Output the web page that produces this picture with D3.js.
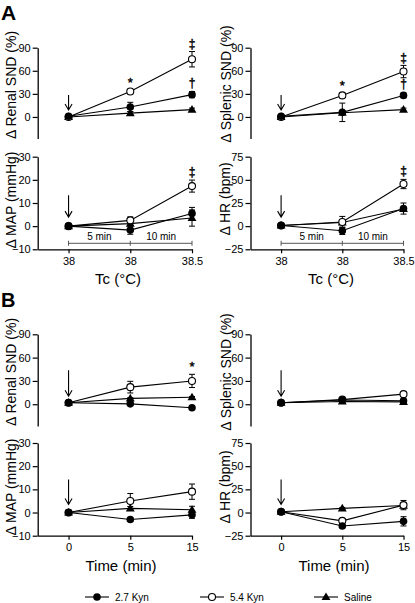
<!DOCTYPE html>
<html><head><meta charset="utf-8">
<script src="https://cdn.jsdelivr.net/npm/d3@7"></script>
<style>
html,body{margin:0;padding:0;background:#fff;}
svg text{font-family:"Liberation Sans",Arial,Helvetica,sans-serif;fill:#000;}
</style></head>
<body>
<script>
// ---------------- DATA ----------------
const seriesNames = ["2.7 Kyn", "5.4 Kyn", "Saline"];
const tickLabelsA = ["38", "38", "38.5"];
const tickLabelsB = ["0", "5", "15"];
const ticksSND = [0, 30, 60, 90];
const ticksMAP = [-10, 0, 10, 20, 30];
const ticksHR = [-25, 0, 25, 50, 75];

// Panel A (Tc)
const A_renal_kyn27 = [1, 13, 29],      A_renal_kyn27_se = [0, 6, 4];
const A_renal_kyn54 = [0, 33, 75],      A_renal_kyn54_se = [0, 3, 10];
const A_renal_saline = [0, 5, 9.5],     A_renal_saline_se = [0, 2, 2];

const A_splenic_kyn27 = [1, 6, 28],     A_splenic_kyn27_se = [0, 12, 3];
const A_splenic_kyn54 = [0, 28, 59],    A_splenic_kyn54_se = [0, 3, 8];
const A_splenic_saline = [0, 5.5, 9.5], A_splenic_saline_se = [0, 2, 2];

const A_map_kyn27 = [0, -1.7, 5.5],     A_map_kyn27_se = [0, 1.8, 2.6];
const A_map_kyn54 = [0, 2.5, 17.3],     A_map_kyn54_se = [0, 1.5, 2.6];
const A_map_saline = [0, 1.1, 3.5],     A_map_saline_se = [0, 1, 3.5];

const A_hr_kyn27 = [0.7, -5, 19],       A_hr_kyn27_se = [0, 4, 6];
const A_hr_kyn54 = [0.7, 4.5, 45.5],    A_hr_kyn54_se = [0, 6, 5];
const A_hr_saline = [0.7, 4, 18.5],     A_hr_saline_se = [0, 2, 2];

// Panel B (Time)
const B_renal_kyn27 = [2, 0.5, -4.5],   B_renal_kyn27_se = [0, 1.5, 1.5];
const B_renal_kyn54 = [2, 22, 30],      B_renal_kyn54_se = [0, 7.5, 8.5];
const B_renal_saline = [2, 7.5, 9],     B_renal_saline_se = [0, 1, 1];

const B_splenic_kyn27 = [2, 5.5, 4.5],  B_splenic_kyn27_se = [0, 1, 1];
const B_splenic_kyn54 = [2, 6, 13],     B_splenic_kyn54_se = [0, 1, 1.5];
const B_splenic_saline = [2, 3.5, 3],   B_splenic_saline_se = [0, 1, 1];

const B_map_kyn27 = [0, -3, -1],        B_map_kyn27_se = [0, 0.8, 1.5];
const B_map_kyn54 = [0, 5, 9],          B_map_kyn54_se = [0, 3.2, 3.3];
const B_map_saline = [0, 1.8, 1.2],     B_map_saline_se = [0, 0.8, 1.5];

const B_hr_kyn27 = [0.8, -14.5, -9.5],  B_hr_kyn27_se = [0, 2, 5];
const B_hr_kyn54 = [0.8, -9, 8],        B_hr_kyn54_se = [0, 2, 5];
const B_hr_saline = [0.8, 4.5, 7.5],    B_hr_saline_se = [0, 1, 1];

// significance marks: [index, value(center), symbol]
const A_renal_sig = [[1, 45, "*"], [2, 95, "‡"], [2, 43.5, "†"]];
const A_splenic_sig = [[1, 40.5, "*"], [2, 77, "‡"], [2, 43, "†"]];
const A_map_sig = [[2, 23.4, "‡"]];
const A_hr_sig = [[2, 60, "‡"]];
const B_renal_sig = [[2, 48, "*"]];

// ---------------- DRAW ----------------
const W = 415, H = 603;
const svg = d3.select("body").append("svg").attr("width", W).attr("height", H);

const xLeft = d3.scaleLinear().domain([-0.5, 2]).range([37.7, 192]);
const xRight = d3.scaleLinear().domain([-0.5, 2]).range([250.5, 403.5]);

const panels = [
  {x: xLeft, y: d3.scaleLinear().domain([-28, 90]).range([138.5, 47.7]), ticks: ticksSND,
   data: [[A_renal_kyn27, A_renal_kyn27_se], [A_renal_kyn54, A_renal_kyn54_se], [A_renal_saline, A_renal_saline_se]],
   label: "\u0394 Renal SND (%)", lx: 11, ly: 85, sig: A_renal_sig, arrow: [22, 7]},
  {x: xRight, y: d3.scaleLinear().domain([-28, 90]).range([138.5, 47.7]), ticks: ticksSND,
   data: [[A_splenic_kyn27, A_splenic_kyn27_se], [A_splenic_kyn54, A_splenic_kyn54_se], [A_splenic_saline, A_splenic_saline_se]],
   label: "\u0394 Splenic SND (%)", lx: 225.5, ly: 84, sig: A_splenic_sig, arrow: [22, 7]},
  {x: xLeft, y: d3.scaleLinear().domain([-10, 30]).range([249.3, 156.7]), ticks: ticksMAP,
   data: [[A_map_kyn27, A_map_kyn27_se], [A_map_kyn54, A_map_kyn54_se], [A_map_saline, A_map_saline_se]],
   label: "\u0394 MAP (mmHg)", lx: 11, ly: 200, sig: A_map_sig, arrow: [31, 9],
   xTicks: tickLabelsA, xTitle: "Tc (\u00B0C)", tx: 118, ty: 278, bracket: true},
  {x: xRight, y: d3.scaleLinear().domain([-25, 75]).range([249.3, 156.7]), ticks: ticksHR,
   data: [[A_hr_kyn27, A_hr_kyn27_se], [A_hr_kyn54, A_hr_kyn54_se], [A_hr_saline, A_hr_saline_se]],
   label: "\u0394 HR (bpm)", lx: 225, ly: 199, sig: A_hr_sig, arrow: [31, 9],
   xTicks: tickLabelsA, xTitle: "Tc (\u00B0C)", tx: 331, ty: 278, bracket: true},
  {x: xLeft, y: d3.scaleLinear().domain([-28, 90]).range([426, 334.3]), ticks: ticksSND,
   data: [[B_renal_kyn27, B_renal_kyn27_se], [B_renal_kyn54, B_renal_kyn54_se], [B_renal_saline, B_renal_saline_se]],
   label: "\u0394 Renal SND (%)", lx: 11, ly: 372, sig: B_renal_sig, arrow: [34, 8]},
  {x: xRight, y: d3.scaleLinear().domain([-28, 90]).range([426, 334.3]), ticks: ticksSND,
   data: [[B_splenic_kyn27, B_splenic_kyn27_se], [B_splenic_kyn54, B_splenic_kyn54_se], [B_splenic_saline, B_splenic_saline_se]],
   label: "\u0394 Splenic SND (%)", lx: 225.5, ly: 372, sig: [], arrow: [34, 8]},
  {x: xLeft, y: d3.scaleLinear().domain([-10, 30]).range([535.7, 443]), ticks: ticksMAP,
   data: [[B_map_kyn27, B_map_kyn27_se], [B_map_kyn54, B_map_kyn54_se], [B_map_saline, B_map_saline_se]],
   label: "\u0394 MAP (mmHg)", lx: 11, ly: 487, sig: [], arrow: [33, 8],
   xTicks: tickLabelsB, xTitle: "Time (min)", tx: 121, ty: 565},
  {x: xRight, y: d3.scaleLinear().domain([-25, 75]).range([535.7, 443]), ticks: ticksHR,
   data: [[B_hr_kyn27, B_hr_kyn27_se], [B_hr_kyn54, B_hr_kyn54_se], [B_hr_saline, B_hr_saline_se]],
   label: "\u0394 HR (bpm)", lx: 225, ly: 487, sig: [], arrow: [33, 8],
   xTicks: tickLabelsB, xTitle: "Time (min)", tx: 334, ty: 565},
];

const markerR = 3.8;
function drawMarker(g, type, cx, cy) {
  if (type === 0) {
    g.append("circle").attr("cx", cx).attr("cy", cy).attr("r", markerR).attr("fill", "#000");
  } else if (type === 1) {
    g.append("circle").attr("cx", cx).attr("cy", cy).attr("r", markerR - 0.3)
      .attr("fill", "#fff").attr("stroke", "#000").attr("stroke-width", 1.1);
  } else {
    g.append("path").attr("d", d3.symbol(d3.symbolTriangle, 34)())
      .attr("transform", `translate(${cx},${cy + 0.5})`).attr("fill", "#000");
  }
}

const idx = [0, 1, 2];
panels.forEach(p => {
  const g = svg.append("g");
  const x = p.x, y = p.y;
  const x0 = x.range()[0];
  // y axis
  const ya = g.append("g").attr("transform", `translate(${x0},0)`)
    .call(d3.axisLeft(y).tickValues(p.ticks).tickSize(5).tickSizeOuter(0).tickPadding(2));
  ya.select(".domain").attr("stroke-width", 1.3);
  ya.selectAll(".tick line").attr("stroke-width", 1.2);
  ya.selectAll("text").style("font-size", "11px").style("font-family", "Liberation Sans, Arial");
  // y label
  g.append("text").attr("transform", `translate(${p.lx},${p.ly}) rotate(-90)`)
    .attr("text-anchor", "middle").attr("dominant-baseline", "central")
    .style("font-size", "14px").text(p.label);
  // x axis
  if (p.xTicks) {
    const yb = y.range()[0];
    const xa = g.append("g").attr("transform", `translate(0,${yb})`)
      .call(d3.axisBottom(x).tickValues(idx).tickFormat(i => p.xTicks[i]).tickSize(4).tickSizeOuter(0).tickPadding(4));
    xa.select(".domain").attr("stroke-width", 1.3);
    xa.selectAll(".tick line").attr("stroke-width", 1.2);
    xa.selectAll("text").style("font-size", "11px").style("font-family", "Liberation Sans, Arial");
    g.append("text").attr("x", p.tx).attr("y", p.ty).attr("text-anchor", "middle")
      .attr("dominant-baseline", "central").style("font-size", "15px").text(p.xTitle);
  }
  // bracket
  if (p.bracket) {
    const by = y.range()[0] - 6;
    const bg = g.append("g").attr("stroke", "#555").attr("stroke-width", 1);
    bg.append("line").attr("x1", x(0)).attr("x2", x(2)).attr("y1", by).attr("y2", by);
    idx.forEach(i => bg.append("line").attr("x1", x(i)).attr("x2", x(i)).attr("y1", by - 2.5).attr("y2", by + 2.5));
    g.append("text").attr("x", (x(0) + x(1)) / 2).attr("y", by - 3).attr("text-anchor", "middle")
      .style("font-size", "10px").text("5 min");
    g.append("text").attr("x", (x(1) + x(2)) / 2).attr("y", by - 3).attr("text-anchor", "middle")
      .style("font-size", "10px").text("10 min");
  }
  // lines
  const line = d3.line().x((d, i) => x(i)).y(d => y(d));
  p.data.forEach(([vals]) => {
    g.append("path").attr("d", line(vals)).attr("fill", "none").attr("stroke", "#000").attr("stroke-width", 1.1);
  });
  // error bars
  p.data.forEach(([vals, se]) => {
    vals.forEach((v, i) => {
      if (!se[i]) return;
      const cx = x(i), yt = y(v + se[i]), ybt = y(v - se[i]);
      g.append("line").attr("x1", cx).attr("x2", cx).attr("y1", yt).attr("y2", ybt).attr("stroke", "#000").attr("stroke-width", 1);
      g.append("line").attr("x1", cx - 3).attr("x2", cx + 3).attr("y1", yt).attr("y2", yt).attr("stroke", "#000").attr("stroke-width", 1);
      g.append("line").attr("x1", cx - 3).attr("x2", cx + 3).attr("y1", ybt).attr("y2", ybt).attr("stroke", "#000").attr("stroke-width", 1);
    });
  });
  // markers (draw saline, 5.4, then 2.7 on top)
  [2, 1, 0].forEach(s => {
    const vals = p.data[s][0];
    vals.forEach((v, i) => drawMarker(g, s, x(i), y(v)));
  });
  // significance
  p.sig.forEach(([i, v, sym]) => {
    g.append("text").attr("x", x(i)).attr("y", y(v)).attr("text-anchor", "middle")
      .attr("dominant-baseline", "central")
      .attr("stroke", "#000").attr("stroke-width", 0.4)
      .style("fill", "#000")
      .style("font-size", sym === "*" ? "13px" : "12px").text(sym);
  });
  // arrow
  const ax = x(0), ay0 = y(0);
  const top = ay0 - p.arrow[0], tip = ay0 - p.arrow[1];
  g.append("path").attr("d", `M${ax},${top}L${ax},${tip}M${ax - 3.5},${tip - 6}L${ax},${tip}L${ax + 3.5},${tip - 6}`)
    .attr("fill", "none").attr("stroke", "#000").attr("stroke-width", 1.1);
});

// panel letters
svg.append("text").attr("x", 1).attr("y", 20).style("font-size", "21px").style("font-weight", "bold").text("A");
svg.append("text").attr("x", 1).attr("y", 307).style("font-size", "20px").style("font-weight", "bold").text("B");

// legend
const legendX = [97, 212, 326];
const legY = 597;
seriesNames.forEach((name, s) => {
  const cx = legendX[s];
  svg.append("line").attr("x1", cx - 12).attr("x2", cx + 12).attr("y1", legY).attr("y2", legY)
    .attr("stroke", "#000").attr("stroke-width", 1.1);
  drawMarker(svg, s, cx, legY);
  svg.append("text").attr("x", cx + 18).attr("y", legY).attr("dominant-baseline", "central")
    .style("font-size", "10px").text(name);
});
</script>
</body></html>
